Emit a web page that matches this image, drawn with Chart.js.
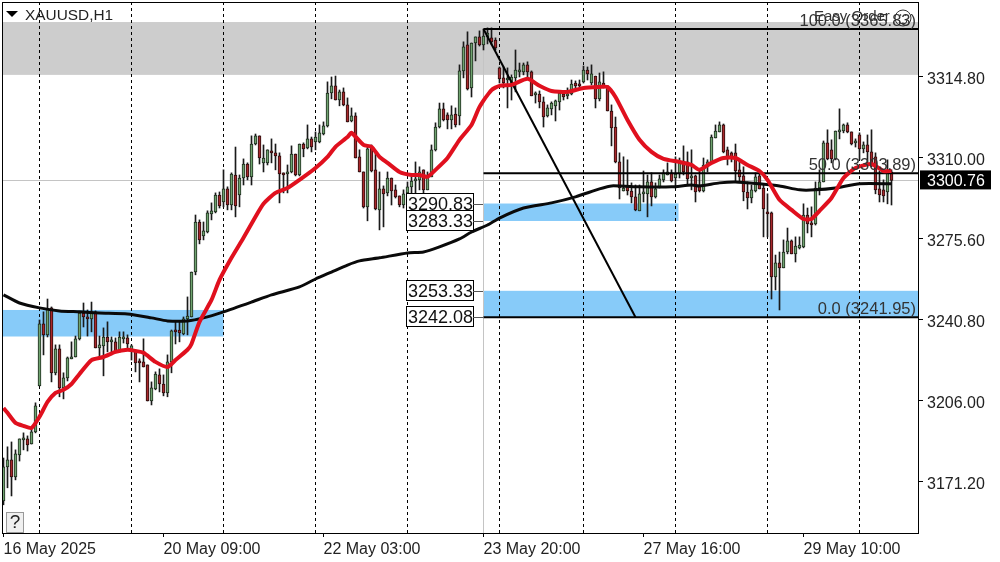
<!DOCTYPE html>
<html>
<head>
<meta charset="utf-8">
<title>XAUUSD,H1</title>
<script src="https://cdn.jsdelivr.net/npm/chart.js@4/dist/chart.umd.min.js"></script>
<style>
    html, body { margin: 0; background: #fff; }
    canvas { display: block; }
</style>
</head>
<body>
<canvas id="chart" width="1000" height="562"></canvas>
<script>
const opens = [
    3163.1,3177.7,3180.7,3173.4,3182.8,3189.3,3189.7,3187.5,3192.7,3212.5,
    3239.1,3234.4,3246.0,3218.1,3228.4,3211.6,3215.9,3224.1,3224.9,3232.7,
    3243.8,3242.1,3241.3,3244.3,3228.8,3229.7,3233.5,3231.4,3231.4,3227.1,
    3232.7,3233.1,3227.5,3227.1,3222.8,3222.8,3221.5,3206.0,3211.2,3217.2,
    3213.3,3209.5,3222.8,3236.5,3236.5,3234.8,3241.3,3242.1,3261.4,3282.9,
    3276.9,3278.6,3286.4,3287.2,3294.5,3291.5,3297.1,3290.2,3303.1,3294.5,
    3301.8,3307.8,3302.3,3316.4,3319.9,3308.3,3308.3,3313.4,3312.6,3311.3,
    3304.0,3303.5,3304.4,3312.1,3303.1,3316.4,3314.7,3318.6,3317.3,3317.3,
    3320.7,3324.2,3338.3,3341.4,3335.3,3338.8,3333.2,3326.3,3328.5,3310.9,
    3304.4,3289.4,3314.7,3305.3,3288.1,3297.1,3295.4,3301.8,3296.7,3294.1,
    3290.2,3295.4,3298.0,3300.5,3301.0,3305.3,3296.7,3302.3,3313.9,3323.7,
    3331.5,3328.9,3326.7,3329.3,3328.5,3347.8,3359.0,3340.5,3359.8,3362.4,
    3359.0,3362.4,3362.0,3361.1,3349.1,3344.8,3343.9,3341.8,3344.8,3347.4,
    3347.4,3350.4,3347.4,3337.5,3337.9,3334.5,3328.5,3331.5,3332.8,3334.5,
    3337.9,3337.1,3337.9,3342.6,3342.2,3343.1,3348.2,3342.6,3345.6,3335.8,
    3342.6,3341.4,3330.6,3323.7,3308.7,3296.2,3298.4,3296.2,3293.7,3287.7,
    3295.0,3295.0,3300.1,3293.7,3298.0,3301.0,3303.1,3304.0,3301.8,3303.5,
    3309.1,3308.7,3301.8,3302.7,3298.8,3296.2,3306.6,3308.7,3319.0,3321.6,
    3324.6,3313.9,3312.6,3312.6,3305.3,3302.7,3295.8,3293.2,3296.2,3302.7,
    3297.5,3287.2,3286.8,3259.3,3265.3,3263.2,3270.0,3274.8,3269.2,3271.8,
    3272.2,3285.9,3282.5,3282.1,3297.5,3300.1,3316.9,3313.9,3310.0,3321.6,
    3322.0,3324.6,3321.6,3316.9,3320.3,3314.3,3316.0,3313.0,3310.9,3297.1,
    3296.7,3295.8,3304.4
];
const highs = [
    3181.5,3186.3,3188.4,3185.0,3189.7,3192.3,3191.0,3194.9,3205.2,3240.8,
    3244.3,3249.8,3246.4,3230.1,3230.1,3218.1,3224.9,3231.4,3233.9,3244.3,
    3248.1,3245.1,3248.5,3244.7,3233.9,3237.4,3240.0,3233.5,3233.1,3235.7,
    3235.7,3234.4,3230.1,3227.1,3224.1,3232.7,3221.5,3214.2,3218.5,3219.8,
    3217.2,3225.8,3236.5,3240.0,3240.4,3242.1,3250.7,3261.4,3285.9,3283.8,
    3282.9,3287.7,3291.1,3295.4,3295.8,3305.3,3298.0,3304.0,3315.1,3303.1,
    3310.0,3308.3,3319.9,3320.7,3319.9,3316.0,3313.9,3318.6,3316.4,3312.6,
    3304.0,3307.4,3315.6,3312.1,3316.4,3316.9,3324.6,3319.4,3321.6,3324.6,
    3325.9,3343.1,3345.2,3345.6,3339.6,3340.5,3336.2,3331.9,3329.8,3313.9,
    3304.4,3315.6,3316.0,3313.0,3304.4,3298.4,3304.4,3301.8,3298.8,3294.1,
    3296.7,3300.1,3302.3,3308.7,3306.6,3305.3,3304.4,3316.0,3325.5,3334.0,
    3334.0,3329.8,3332.8,3331.9,3350.4,3360.3,3364.6,3359.8,3362.4,3365.0,
    3365.8,3366.3,3366.3,3362.0,3349.5,3349.5,3349.1,3346.1,3356.8,3351.2,
    3351.2,3351.7,3347.8,3338.8,3339.2,3336.6,3333.2,3334.5,3335.3,3338.8,
    3339.2,3340.5,3343.9,3343.5,3343.9,3349.9,3349.5,3350.4,3345.6,3346.9,
    3347.4,3341.4,3333.2,3328.0,3312.6,3310.9,3309.6,3299.7,3298.8,3298.8,
    3304.8,3303.1,3304.0,3299.7,3303.1,3305.3,3308.3,3305.3,3310.9,3310.4,
    3315.6,3313.0,3313.9,3303.1,3305.3,3310.4,3309.6,3320.3,3324.6,3325.9,
    3325.0,3315.1,3313.0,3316.4,3309.6,3306.6,3300.1,3298.8,3304.0,3304.0,
    3298.8,3295.0,3287.2,3268.7,3270.0,3275.2,3280.3,3275.2,3276.5,3276.5,
    3290.7,3288.9,3289.4,3300.1,3305.3,3317.7,3322.5,3318.2,3322.0,3331.5,
    3325.0,3325.5,3321.6,3318.6,3321.2,3317.3,3320.3,3322.5,3312.6,3304.8,
    3301.0,3309.6,3305.3
];
const lows = [
    3161.4,3168.7,3165.2,3172.1,3180.2,3185.0,3184.5,3187.5,3192.3,3212.5,
    3225.8,3233.5,3214.2,3217.2,3207.8,3206.9,3214.6,3224.1,3224.9,3232.2,
    3237.8,3233.9,3235.7,3228.8,3224.9,3216.8,3227.1,3227.1,3227.1,3227.1,
    3230.9,3228.8,3223.6,3218.5,3214.2,3220.6,3206.0,3204.3,3210.8,3209.9,
    3208.2,3207.8,3218.1,3230.5,3231.4,3234.4,3234.4,3242.1,3260.2,3273.5,
    3275.2,3278.2,3283.8,3286.8,3288.9,3289.4,3288.1,3288.1,3285.1,3289.4,
    3298.8,3301.0,3298.8,3316.0,3307.8,3304.4,3307.4,3308.3,3305.3,3291.1,
    3295.4,3295.4,3304.0,3302.7,3302.7,3310.9,3314.3,3313.0,3313.9,3316.9,
    3320.3,3323.7,3335.8,3335.3,3332.8,3332.8,3325.9,3325.9,3310.4,3304.4,
    3288.9,3283.4,3304.4,3288.1,3279.5,3280.8,3294.1,3290.2,3293.2,3289.4,
    3288.9,3292.4,3294.1,3286.8,3296.7,3294.5,3296.7,3302.3,3313.4,3323.3,
    3326.3,3322.9,3322.9,3323.7,3324.6,3344.8,3339.6,3336.6,3352.1,3358.5,
    3356.8,3359.4,3359.0,3356.8,3342.6,3340.5,3331.9,3335.3,3338.8,3345.2,
    3346.1,3344.8,3337.1,3334.0,3331.9,3323.7,3328.0,3328.9,3326.3,3331.0,
    3335.3,3335.8,3337.5,3340.5,3340.5,3342.6,3343.9,3341.8,3331.9,3334.9,
    3340.5,3330.6,3315.6,3308.3,3292.8,3296.2,3294.5,3291.1,3287.7,3287.7,
    3291.5,3285.1,3289.8,3293.2,3297.5,3300.1,3303.1,3300.1,3297.5,3301.8,
    3303.1,3299.3,3296.7,3291.5,3295.8,3295.8,3304.4,3308.3,3319.0,3321.6,
    3312.6,3307.4,3308.7,3300.1,3300.1,3292.0,3288.5,3291.1,3295.8,3297.1,
    3276.5,3276.5,3249.8,3253.7,3245.1,3263.2,3269.2,3269.2,3265.7,3271.3,
    3271.8,3278.2,3276.5,3281.6,3294.5,3300.1,3309.6,3308.3,3309.6,3318.6,
    3321.2,3321.2,3316.0,3315.1,3309.6,3312.6,3308.3,3306.6,3295.0,3291.5,
    3291.5,3290.7,3290.2
];
const closes = [
    3177.7,3180.7,3173.4,3183.3,3189.7,3190.1,3187.1,3192.7,3203.9,3239.1,
    3234.4,3245.5,3218.1,3228.4,3211.6,3215.9,3224.5,3224.9,3232.7,3243.8,
    3242.1,3241.3,3244.3,3228.8,3230.1,3233.5,3231.4,3231.8,3227.1,3233.5,
    3233.5,3230.5,3229.7,3222.4,3222.4,3220.6,3206.0,3211.6,3217.6,3213.3,
    3209.5,3222.8,3236.1,3235.7,3235.2,3241.3,3242.5,3261.4,3282.9,3275.2,
    3279.1,3286.8,3287.7,3294.5,3289.8,3297.1,3290.2,3303.5,3289.8,3301.8,
    3307.8,3302.3,3316.4,3319.9,3310.4,3310.4,3313.9,3312.6,3311.3,3303.5,
    3303.1,3304.4,3312.1,3303.1,3316.4,3314.3,3318.6,3315.1,3319.4,3321.2,
    3324.2,3338.3,3341.4,3335.3,3338.8,3333.2,3325.9,3328.5,3310.4,3304.4,
    3289.4,3314.3,3304.8,3288.5,3297.1,3295.0,3301.8,3296.2,3293.7,3290.2,
    3295.0,3298.0,3300.5,3301.4,3304.4,3296.7,3303.1,3313.9,3323.7,3331.5,
    3326.7,3326.7,3328.9,3324.6,3347.8,3358.1,3340.1,3359.8,3362.4,3359.0,
    3362.8,3364.1,3360.3,3357.7,3344.4,3342.6,3344.4,3345.2,3348.2,3348.2,
    3350.4,3347.4,3337.1,3337.9,3334.5,3328.0,3331.9,3334.0,3334.9,3338.3,
    3336.6,3337.9,3342.2,3341.4,3341.4,3348.2,3346.5,3346.5,3335.8,3343.1,
    3340.5,3330.6,3323.3,3308.7,3297.5,3297.5,3296.2,3293.7,3288.1,3295.0,
    3295.4,3300.1,3293.7,3297.1,3301.4,3304.0,3304.4,3300.5,3303.5,3309.1,
    3304.4,3301.4,3302.7,3295.8,3296.2,3307.4,3308.7,3319.4,3322.0,3324.6,
    3313.0,3310.9,3310.4,3304.8,3302.3,3295.8,3293.2,3296.7,3302.3,3297.1,
    3288.5,3286.4,3259.3,3265.3,3263.2,3270.0,3274.8,3269.2,3272.6,3273.0,
    3285.9,3282.1,3281.6,3297.5,3300.1,3316.9,3310.0,3310.0,3322.0,3322.0,
    3324.6,3321.6,3316.4,3317.7,3314.3,3316.0,3313.0,3308.3,3296.7,3294.5,
    3294.1,3304.0,3300.76
];

// moving averages, read at these bar numbers
const redBars = [0,1,3,5,7,9,11,13,15,17,19,22,25,28,31,33,35,38,41,43,46,47,49,52,54,57,60,63,65,68,71,74,78,81,83,86,87,90,92,94,96,99,102,104,106,108,111,114,117,119,122,124,127,131,134,137,141,145,149,151,153,156,159,162,165,169,172,174,177,180,183,186,189,191,194,197,200,202,204,207,210,213,217,220,222];
const redValues = [3203.0,3200.9,3196.6,3195.3,3194.4,3199.2,3205.6,3209.5,3210.8,3213.3,3217.6,3223.6,3224.9,3227.1,3228.0,3227.5,3226.7,3222.8,3220.6,3223.6,3228.0,3230.5,3240.0,3249.4,3258.0,3267.5,3276.1,3285.1,3290.7,3295.4,3297.5,3301.0,3306.1,3310.9,3315.2,3319.4,3321.2,3316.0,3315.2,3310.9,3308.3,3304.4,3303.1,3303.1,3302.3,3305.3,3310.4,3318.2,3324.6,3332.3,3339.6,3341.4,3341.8,3344.4,3341.4,3339.2,3338.8,3340.5,3340.9,3340.9,3336.6,3326.7,3318.2,3313.0,3310.0,3308.7,3307.4,3305.3,3308.3,3310.4,3310.4,3307.4,3304.8,3301.0,3292.4,3288.1,3284.2,3284.2,3287.7,3293.2,3301.8,3306.1,3307.8,3304.8,3304.8];
const blackBars = [0,4,9,14,19,24,31,37,41,46,50,55,62,67,74,78,82,86,89,94,101,105,109,114,117,121,124,130,137,143,149,152,159,167,172,174,179,183,189,194,199,203,208,214,222];
const blackValues = [3251.6,3248.1,3246.0,3244.7,3244.3,3243.8,3243.4,3241.7,3240.4,3240.4,3241.7,3244.3,3248.5,3251.6,3255.0,3258.4,3261.4,3264.4,3266.2,3267.5,3269.6,3270.0,3272.2,3275.6,3278.6,3281.6,3284.6,3288.9,3291.1,3293.7,3297.1,3298.4,3298.0,3298.0,3298.8,3298.4,3299.7,3300.1,3299.3,3298.4,3296.7,3296.7,3297.5,3299.3,3299.3];

// axes
const yTickValues = [3171.2, 3206.0, 3240.8, 3275.6, 3310.4, 3345.2];
const yTickLabels = ['3171.20', '3206.00', '3240.80', '3275.60', '3310.00', '3314.80'];
const xTickBars = [0, 40, 80, 120, 160, 200];
const xTickLabels = ['16 May 2025', '20 May 09:00', '22 May 03:00', '23 May 20:00', '27 May 16:00', '29 May 10:00'];
const dayBars = [9, 32, 55, 78, 101, 124, 145, 168, 191, 214];

// zones and levels
const grayZone = [3368.8, 3346.1];
const leftZone = [3245.1, 3233.7];
const midZone = [3290.83, 3283.33];
const lowZone = [3253.33, 3242.08];
const priceBoxes = [3290.83, 3283.33, 3253.33, 3242.08];
const fibValues = [3365.83, 3303.89, 3241.95];
const fibTexts = ['100.0 (3365.83)', '50.0 (3303.89)', '0.0 (3241.95)'];
const bidPrice = 3300.76;
const fibStartBar = 120;
const fibTrendEndBar = 158;
const midZoneEndBar = 168.75;

const barLeft = -0.375;
const barRight = 228.625;
const allBars = Array.from(opens, (_, i) => i);
const uiFont = '"Liberation Sans"';

const lineSet = (points, color, width, order, tension) => ({
    type: 'line',
    data: points,
    borderColor: color,
    borderWidth: width,
    pointRadius: 0,
    tension: tension,
    order: order
});

const backdrop = {
    id: 'backdrop',
    beforeDatasetsDraw(chart) {
        const {ctx, chartArea: area, scales: {x, y}} = chart;
        const zone = (vals, from, to, color) => {
            ctx.fillStyle = color;
            ctx.fillRect(from, y.getPixelForValue(vals[0]), to - from, y.getPixelForValue(vals[1]) - y.getPixelForValue(vals[0]));
        };
        ctx.save();
        zone(grayZone, area.left, area.right, '#cdcdcd');
        const start = x.getPixelForValue(fibStartBar);
        zone(leftZone, area.left, x.getPixelForValue(55), '#87cbf9');
        zone(midZone, start, x.getPixelForValue(midZoneEndBar), '#87cbf9');
        zone(lowZone, start, area.right, '#87cbf9');

        ctx.lineWidth = 1;
        ctx.strokeStyle = '#c4c4c4';
        const bidY = Math.round(y.getPixelForValue(bidPrice)) + 0.5;
        ctx.beginPath();
        ctx.moveTo(area.left, bidY);
        ctx.lineTo(area.right, bidY);
        ctx.moveTo(Math.floor(start) + 0.5, y.getPixelForValue(fibValues[0]));
        ctx.lineTo(Math.floor(start) + 0.5, area.bottom);
        ctx.stroke();

        ctx.strokeStyle = '#000';
        ctx.setLineDash([3, 3]);
        ctx.beginPath();
        dayBars.forEach(b => {
            const px = Math.floor(x.getPixelForValue(b)) + 0.5;
            ctx.moveTo(px, area.top);
            ctx.lineTo(px, area.bottom);
        });
        ctx.stroke();
        ctx.restore();
    }
};

const overlay = {
    id: 'overlay',
    afterDraw(chart) {
        const {ctx, chartArea: area, scales: {x, y}} = chart;
        ctx.save();
        ctx.strokeStyle = '#000';
        ctx.lineWidth = 1;
        ctx.strokeRect(area.left + 0.5, area.top + 0.5, area.right - area.left, area.bottom - area.top);

        // symbol
        ctx.fillStyle = '#000';
        ctx.beginPath();
        ctx.moveTo(6, 11);
        ctx.lineTo(18, 11);
        ctx.lineTo(12, 17);
        ctx.fill();
        ctx.font = '15.4px ' + uiFont;
        ctx.textBaseline = 'middle';
        ctx.fillStyle = '#222';
        ctx.fillText('XAUUSD,H1', 25, 16);

        // help button
        ctx.fillStyle = '#f0f0f0';
        ctx.strokeStyle = '#999';
        ctx.fillRect(6.5, 512.5, 17, 20);
        ctx.strokeRect(6.5, 512.5, 17, 20);
        ctx.fillStyle = '#222';
        ctx.font = '19px ' + uiFont;
        ctx.textAlign = 'center';
        ctx.fillText('?', 15, 523);

        // fibo level texts and corner label
        ctx.font = '16.5px ' + uiFont;
        ctx.textAlign = 'right';
        ctx.fillStyle = '#333';
        const fibOffsets = [8, 8, 8];
        fibTexts.forEach((t, i) => ctx.fillText(t, 916, y.getPixelForValue(fibValues[i]) - fibOffsets[i]));
        ctx.textAlign = 'left';
        ctx.font = '15px ' + uiFont;
        ctx.fillText('Easy Order', 814, 17);
        ctx.strokeStyle = '#333';
        ctx.beginPath();
        ctx.arc(903, 18, 8, 0, Math.PI * 2);
        ctx.moveTo(899, 20);
        ctx.arc(903, 20, 4, Math.PI, 0, true);
        ctx.moveTo(901, 15);
        ctx.arc(900.5, 15, 0.5, 0, Math.PI * 2);
        ctx.moveTo(906, 15);
        ctx.arc(905.5, 15, 0.5, 0, Math.PI * 2);
        ctx.stroke();

        // price boxes left of the levels
        ctx.font = '18px ' + uiFont;
        priceBoxes.forEach(p => {
            const py = Math.round(y.getPixelForValue(p));
            ctx.fillStyle = '#fff';
            ctx.strokeStyle = '#000';
            ctx.fillRect(406.5, py - 10.5, 67, 20);
            ctx.strokeRect(406.5, py - 10.5, 67, 20);
            ctx.beginPath();
            ctx.moveTo(473, py + 0.5);
            ctx.lineTo(483, py + 0.5);
            ctx.strokeStyle = '#555';
            ctx.stroke();
            ctx.fillStyle = '#111';
            ctx.fillText(p.toFixed(2), 408, py + 1);
        });

        // current price tag
        const bidY = y.getPixelForValue(bidPrice);
        ctx.fillStyle = '#000';
        ctx.fillRect(920, bidY - 10, 71, 19);
        ctx.fillStyle = '#fff';
        ctx.font = '16px ' + uiFont;
        ctx.fillText(bidPrice.toFixed(2), 927, bidY + 1);
        ctx.restore();
    }
};

// keep the plot box fixed, tick labels must not push it around
const fixBox = (s, prop, size) => {
    s[prop] = size;
    s.paddingTop = 0;
    s.paddingBottom = 0;
    s.paddingLeft = 0;
    s.paddingRight = 0;
};

new Chart(document.getElementById('chart'), {
    type: 'bar',
    data: {
        datasets: [
            lineSet(redBars.map((b, i) => ({x: b, y: redValues[i]})), '#e0101e', 4, 1, 0.2),
            lineSet(blackBars.map((b, i) => ({x: b, y: blackValues[i]})), '#0a0a0a', 3, 2, 0.2),
            lineSet([{x: fibStartBar, y: fibValues[0]}, {x: fibTrendEndBar, y: fibValues[2]}], '#000', 2, 3, 0),
            ...fibValues.map(v => lineSet([{x: fibStartBar, y: v}, {x: barRight, y: v}], '#000', 2, 3, 0)),
            {
                // bodies
                data: allBars.map(i => ({x: i, y: [opens[i], closes[i]]})),
                backgroundColor: allBars.map(i => closes[i] >= opens[i] ? '#6fa36f' : '#a8282c'),
                borderColor: allBars.map(i => closes[i] >= opens[i] ? '#1d2b1d' : '#2b0d0d'),
                borderWidth: 1,
                borderSkipped: false,
                barThickness: 3,
                minBarLength: 2,
                order: 4
            },
            {
                // wicks
                data: allBars.map(i => ({x: i, y: [lows[i], highs[i]]})),
                backgroundColor: '#1a1a1a',
                borderWidth: 0,
                barThickness: 1,
                order: 5
            }
        ]
    },
    plugins: [backdrop, overlay],
    options: {
        responsive: false,
        animation: false,
        devicePixelRatio: 1,
        layout: {padding: {top: 2, left: 2, right: 0, bottom: 0}},
        plugins: {
            legend: {display: false},
            tooltip: {enabled: false}
        },
        datasets: {bar: {grouped: false}},
        scales: {
            x: {
                type: 'linear',
                offset: false,
                min: barLeft,
                max: barRight,
                afterBuildTicks: s => { s.ticks = xTickBars.map(v => ({value: v})); },
                afterFit: s => fixBox(s, 'height', 29),
                grid: {offset: false, drawOnChartArea: false, tickLength: 4, color: '#000'},
                border: {color: '#000'},
                ticks: {
                    autoSkip: false,
                    maxRotation: 0,
                    align: 'start',
                    padding: 3,
                    color: '#222',
                    font: {family: uiFont, size: 16},
                    callback: (v, i) => xTickLabels[i]
                }
            },
            y: {
                position: 'right',
                min: 3149.28,
                max: 3377.41,
                afterBuildTicks: s => { s.ticks = yTickValues.map(v => ({value: v})); },
                afterFit: s => fixBox(s, 'width', 82),
                grid: {drawOnChartArea: false, tickLength: 5, color: '#000'},
                border: {color: '#000'},
                ticks: {
                    autoSkip: false,
                    padding: 4,
                    color: '#222',
                    // blank first line pulls the text down to where the reference has it
                    font: {family: uiFont, size: 16, lineHeight: 0.3},
                    callback: (v, i) => ['', yTickLabels[i]]
                }
            }
        }
    }
});
</script>
</body>
</html>
